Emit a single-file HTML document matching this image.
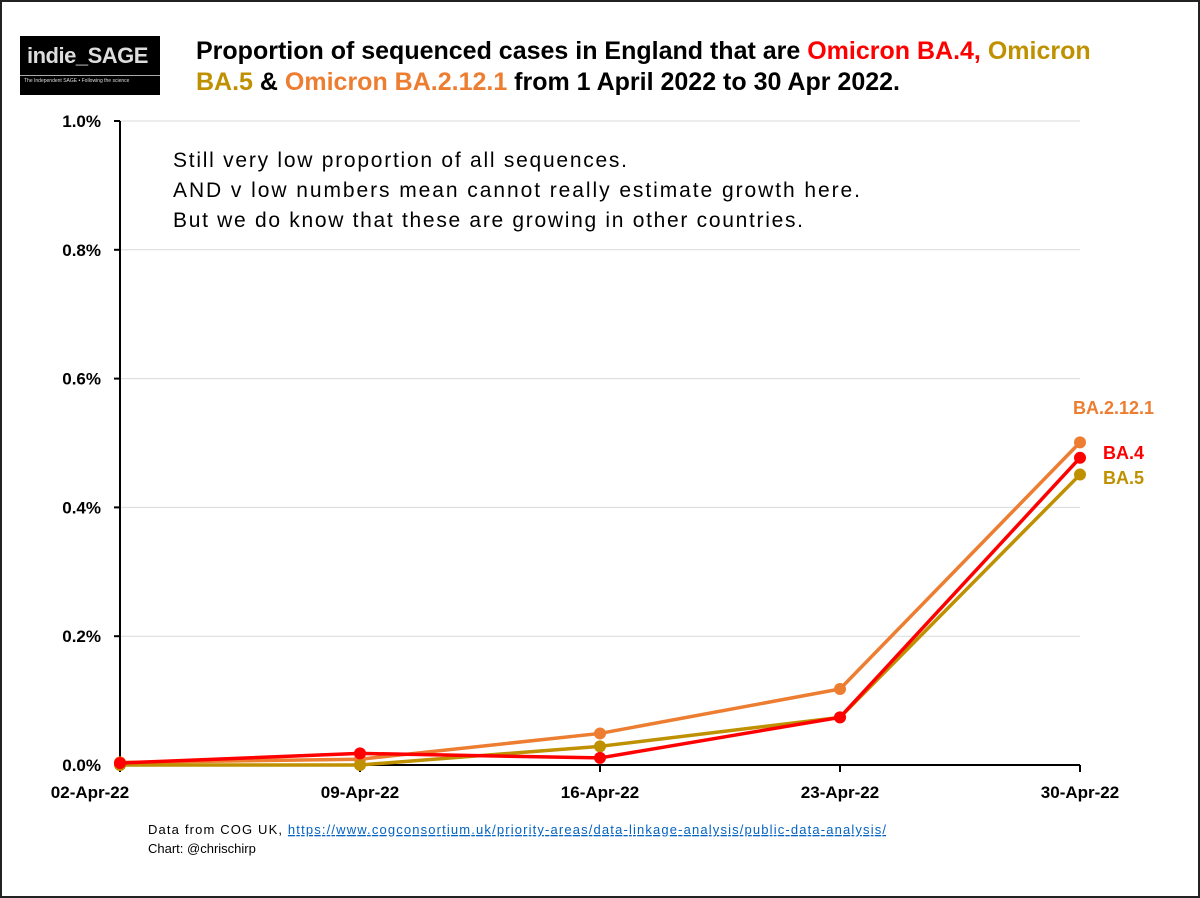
<!DOCTYPE html>
<html><head><meta charset="utf-8"><style>
body{margin:0;width:1200px;height:898px;background:#fff;position:relative;font-family:"Liberation Sans",sans-serif;overflow:hidden}
.frame{position:absolute;left:0;top:0;width:1196px;height:894px;border:2px solid #222}
</style></head><body>
<div class="frame"></div>
<div style="position:absolute;left:20px;top:36px;width:140px;height:59px;background:#000;color:#ddd;overflow:hidden">
<div style="font-size:22px;font-weight:bold;padding:7px 0 0 7px;letter-spacing:-0.5px">indie_SAGE</div>
<div style="border-top:1px solid #aaa;margin:6px 0 0 0;font-size:5px;padding:2px 4px;white-space:nowrap">The Independent SAGE • Following the science</div>
</div>
<div style="position:absolute;left:196px;top:36px;width:945px;font-size:25px;font-weight:bold;line-height:31px;color:#000">Proportion of sequenced cases in England that are <span style="color:#f00">Omicron BA.4,</span> <span style="color:#bf9000">Omicron BA.5</span> &amp; <span style="color:#ed7d31">Omicron BA.2.12.1</span> from 1 April 2022 to 30 Apr 2022.</div>
<svg width="1200" height="898" style="position:absolute;left:0;top:0">
<g id="grid"></g><g id="lines"></g>
<text x="173" y="167" font-size="21" textLength="454" lengthAdjust="spacing" font-family="Liberation Sans, sans-serif">Still very low proportion of all sequences.</text>
<text x="173" y="197" font-size="21" textLength="687" lengthAdjust="spacing" font-family="Liberation Sans, sans-serif">AND v low numbers mean cannot really estimate growth here.</text>
<text x="173" y="227" font-size="21" textLength="630" lengthAdjust="spacing" font-family="Liberation Sans, sans-serif">But we do know that these are growing in other countries.</text>
<text x="148" y="834" font-size="13" textLength="738" lengthAdjust="spacing" font-family="Liberation Sans, sans-serif">Data from COG UK, <tspan fill="#0563c1" text-decoration="underline">https://www.cogconsortium.uk/priority-areas/data-linkage-analysis/public-data-analysis/</tspan></text>
<text x="148" y="853" font-size="13" font-family="Liberation Sans, sans-serif">Chart: @chrischirp</text>
</svg>
<script>
const categories=["02-Apr-22","09-Apr-22","16-Apr-22","23-Apr-22","30-Apr-22"];
const ba4=[0.003,0.018,0.011,0.074,0.477];
const ba5=[0.0,0.0,0.029,0.074,0.451];
const ba2121=[0.004,0.009,0.049,0.118,0.501];
const yTicks=[0,0.2,0.4,0.6,0.8,1.0];
const NS="http://www.w3.org/2000/svg";
const x=i=>120+i*240;
const y=v=>765-v*644;
const grid=document.getElementById('grid'),lines=document.getElementById('lines');
function mk(t,a,p){const e=document.createElementNS(NS,t);for(const k in a)e.setAttribute(k,a[k]);p.appendChild(e);return e;}
yTicks.forEach(v=>{
 if(v>0){const g=mk('line',{x1:120,x2:1080,y1:y(v),y2:y(v),stroke:'#d9d9d9','stroke-width':1},grid);
 
 }
 const tk=mk('line',{x1:114,x2:120,y1:y(v),y2:y(v),stroke:'#000','stroke-width':2},grid);
 
 
 const t=mk('text',{x:101,y:y(v)+6,'text-anchor':'end','font-size':17,'font-weight':'bold','font-family':'Liberation Sans, sans-serif'},grid);
 t.textContent=v.toFixed(1)+'%';
 
 
});
const ya=mk('line',{x1:120,x2:120,y1:y(1),y2:y(0),stroke:'#000','stroke-width':2},grid);


const xa=mk('line',{x1:120,x2:1080,y1:y(0),y2:y(0),stroke:'#000','stroke-width':2},grid);


categories.forEach((c,i)=>{
 const tk=mk('line',{x1:x(i),x2:x(i),y1:765,y2:772,stroke:'#000','stroke-width':2},grid);
 
 
 const t=mk('text',{x:i==0?90:x(i),y:798,'text-anchor':'middle','font-size':17,'font-weight':'bold','font-family':'Liberation Sans, sans-serif'},grid);
 t.textContent=c;
 
 
});
function series(data,color,name,label,lx,ly){
 const p=mk('polyline',{points:data.map((v,i)=>x(i)+','+y(v)).join(' '),fill:'none',stroke:color,'stroke-width':3.5,'stroke-linejoin':'round'},lines);
 
 
 data.forEach((v,i)=>{const c=mk('circle',{cx:x(i),cy:y(v),r:6,fill:color},lines);
 
 });
 const t=mk('text',{x:lx,y:ly,fill:color,'font-size':18,'font-weight':'bold','font-family':'Liberation Sans, sans-serif'},lines);
 t.textContent=label;
 
 
}
series(ba2121,'#ed7d31','ba-2-12-1','BA.2.12.1',1073,414);
series(ba5,'#bf9000','ba-5','BA.5',1103,484);
series(ba4,'#ff0000','ba-4','BA.4',1103,459);
</script>
</body></html>
